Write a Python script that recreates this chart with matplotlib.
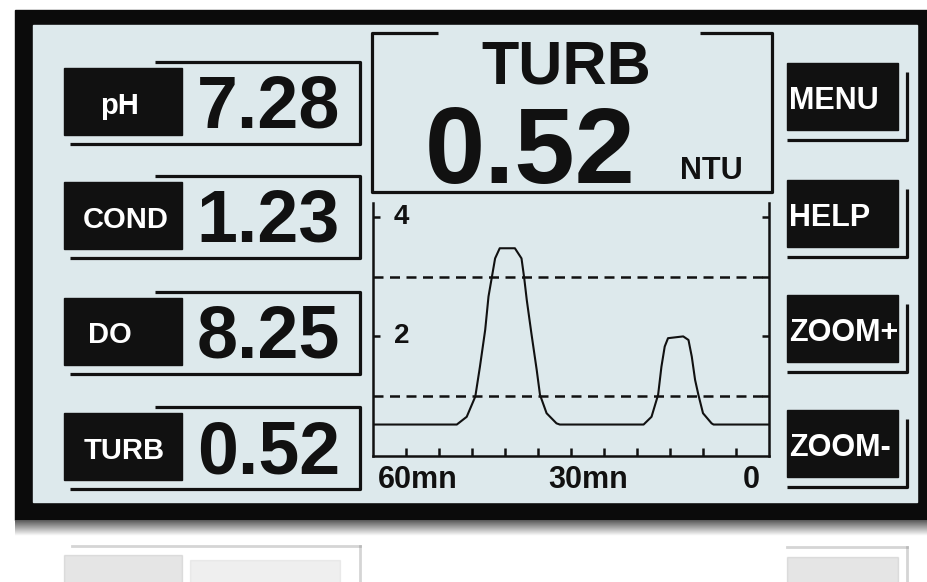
import numpy as np
import matplotlib.pyplot as plt
from matplotlib.patches import Rectangle
import matplotlib.transforms as mtransforms

# values shown on the display
reading_names = ['pH', 'COND', 'DO', 'TURB']
reading_values = ['7.28', '1.23', '8.25', '0.52']
button_names = ['MENU', 'HELP', 'ZOOM+', 'ZOOM-']

main_name = 'TURB'
main_value = '0.52'
main_unit = 'NTU'

# turbidity trend over the last 60 minutes
trend_min = [-60, -47.3, -45.8, -44.5, -43.8, -43.0, -42.5, -42.0, -41.5, -40.8,
             -38.5, -37.5, -37.1, -36.7, -36.0, -35.2, -34.7, -33.7, -32.2, -31.7,
             -19.0, -17.8, -16.8, -16.3, -15.8, -15.3, -13.0, -12.2, -11.7, -11.2,
             -10.7, -10.0, -8.7, -8.4, 0]
trend_ntu = [0.52, 0.52, 0.65, 0.99, 1.49, 2.11, 2.67, 2.99, 3.31, 3.48,
             3.48, 3.31, 2.99, 2.61, 2.05, 1.44, 1.02, 0.71, 0.54, 0.52,
             0.52, 0.65, 1.02, 1.49, 1.83, 1.97, 2.0, 1.94, 1.66, 1.27,
             1.02, 0.71, 0.54, 0.52, 0.52]
alarm_levels = [1, 3]

x_label_pos = [-59.2, -27.4, -2.7]
x_label_text = ['60mn', '30mn', '0']
y_tick_pos = [2, 4]
y_tick_text = ['2', '4']

font = ['Liberation Sans', 'DejaVu Sans']
ink = '#111111'
lcd = '#dde9ec'

W, H = 928, 582
fig = plt.figure(figsize=(W / 100, H / 100), dpi=100, facecolor='white')

# pixel-space layer for the panel itself
ax0 = fig.add_axes([0, 0, 1, 1])
ax0.set_xlim(0, W)
ax0.set_ylim(H, 0)
ax0.axis('off')

# bezel and screen
ax0.add_patch(Rectangle((15, 10), W - 15, 510, color='#0b0b0b', zorder=1))
ax0.add_patch(Rectangle((33, 25), 884, 477, color=lcd, zorder=2))
grad = np.linspace(0.35, 1.0, 30)[:, None]
ax0.imshow(grad, extent=(15, W, 536, 520), cmap='gray', vmin=0, vmax=1,
           aspect='auto', zorder=1)

# faint reflection below the bezel
refl = dict(color='#888888', alpha=0.35, zorder=1)
ax0.plot([72, 360], [546, 546], lw=2, **refl)
ax0.plot([360, 360], [546, 582], lw=2, **refl)
ax0.add_patch(Rectangle((64, 555), 118, 30, color='#999999', alpha=0.25, zorder=1))
ax0.add_patch(Rectangle((190, 560), 150, 30, color='#999999', alpha=0.15, zorder=1))
ax0.plot([787, 907], [547, 547], lw=2, **refl)
ax0.plot([907, 907], [547, 582], lw=2, **refl)
ax0.add_patch(Rectangle((787, 557), 111, 30, color='#999999', alpha=0.25, zorder=1))

def frame_lines(xs, ys):
    ax0.plot(xs, ys, color=ink, lw=2.3, solid_capstyle='butt', zorder=3)

# left readings
row_y = [101, 215, 331, 446]
label_x = [100, 83, 88, 84]
label_dy = [13, 13, 12, 13]
for name, val, c, lx, dy in zip(reading_names, reading_values, row_y, label_x, label_dy):
    frame_lines([155, 360, 360, 70], [c - 39, c - 39, c + 43, c + 43])
    ax0.add_patch(Rectangle((64, c - 33), 118, 67, color=ink, zorder=3))
    ax0.text(lx, c + dy, name, color='white', fontsize=21, fontweight='bold',
             family=font, ha='left', va='baseline', zorder=4)
    ax0.text(340, c + 27, val, color=ink, fontsize=53, fontweight='bold',
             family=font, ha='right', va='baseline', zorder=4)

# right buttons
btn_y = [96, 213, 328, 443]
for name, c in zip(button_names, btn_y):
    frame_lines([907, 907, 787], [c - 24, c + 44, c + 44])
    ax0.add_patch(Rectangle((787, c - 33), 111, 67, color=ink, zorder=3))
    ax0.text(789, c + 13, name, color='white', fontsize=22, fontweight='bold',
             family=font, ha='left', va='baseline', zorder=4)

# main reading box
frame_lines([438, 372, 372, 772, 772, 700], [33, 33, 192, 192, 33, 33])
ax0.text(566, 84, main_name, color=ink, fontsize=44, fontweight='bold',
         family=font, ha='center', va='baseline', zorder=4)
ax0.text(636, 183, main_value, color=ink, fontsize=78, fontweight='bold',
         family=font, ha='right', va='baseline', zorder=4)
ax0.text(680, 179, main_unit, color=ink, fontsize=22, fontweight='bold',
         family=font, ha='left', va='baseline', zorder=4)

# trend chart
ax = fig.add_axes([373 / W, 1 - 455.5 / H, 396 / W, 252.5 / H], facecolor='none')
ax.set_xlim(-60, 0)
ax.set_ylim(0, 4.24)
ax.plot(trend_min, trend_ntu, color=ink, lw=1.5)
for lvl in alarm_levels:
    ax.axhline(lvl, color=ink, lw=1.8, linestyle=(0, (4, 2.6)))

for side in ['left', 'right', 'bottom']:
    ax.spines[side].set_linewidth(1.8)
    ax.spines[side].set_color(ink)
ax.spines['top'].set_visible(False)

ax.set_xticks(list(range(-55, 0, 5)))
ax.tick_params(axis='x', direction='in', length=6, width=1.8, color=ink,
               labelbottom=False)
ax.set_yticks(y_tick_pos)
ax.set_yticks(alarm_levels, minor=True)
ax.tick_params(axis='y', which='major', direction='in', left=True, right=True,
               length=5, width=1.8, color=ink, labelleft=False)
ax.tick_params(axis='y', which='minor', direction='in', left=False, right=True,
               length=5, width=1.8, color=ink)

for v, t in zip(y_tick_pos, y_tick_text):
    ax.text(-56.8, v, t, color=ink, fontsize=20, fontweight='bold', family=font,
            ha='left', va='center')

trans = mtransforms.blended_transform_factory(ax.transData, ax.transAxes)
aligns = ['left', 'center', 'center']
for x, t, a in zip(x_label_pos, x_label_text, aligns):
    ax.text(x, -0.13, t, transform=trans, color=ink, fontsize=22,
            fontweight='bold', family=font, ha=a, va='baseline')

fig.savefig('out.png', dpi=100, facecolor='white')
